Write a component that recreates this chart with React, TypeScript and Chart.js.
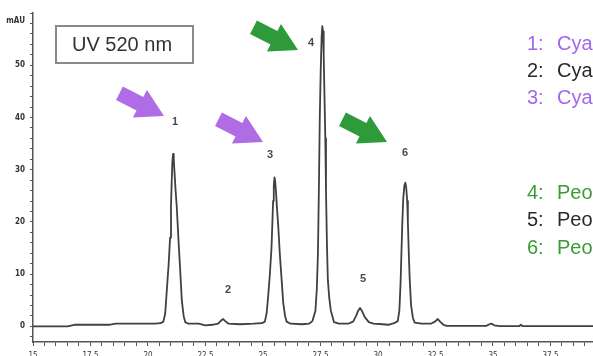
import React, { useEffect, useRef } from "react";
import { Chart, registerables } from "chart.js";

Chart.register(...registerables);

// Retention time (min) and detector response (mAU)
const retentionTimes: number[] = [
  15.0, 16.5, 16.8, 18.3, 18.6, 20.3, 20.55, 20.67, 20.75, 20.82, 20.9, 20.96, 21.0, 21.03, 21.06,
  21.09, 21.12, 21.16, 21.2, 21.25, 21.32, 21.4, 21.47, 21.55, 21.62, 21.75, 22.2, 22.5, 22.8,
  23.05, 23.18, 23.27, 23.36, 23.5, 24.0, 24.6, 24.95, 25.08, 25.16, 25.23, 25.3, 25.37, 25.41,
  25.44, 25.47, 25.5, 25.53, 25.57, 25.61, 25.66, 25.73, 25.81, 25.88, 25.96, 26.03, 26.2, 26.7,
  27.0, 27.15, 27.28, 27.34, 27.39, 27.43, 27.47, 27.51, 27.55, 27.58, 27.61, 27.64, 27.67, 27.71,
  27.74, 27.78, 27.82, 27.88, 27.95, 28.09, 28.3, 28.7, 28.92, 29.05, 29.14, 29.22, 29.3, 29.42,
  29.6, 29.8, 30.2, 30.45, 30.7, 30.86, 30.93, 30.98, 31.02, 31.06, 31.1, 31.15, 31.19, 31.23,
  31.27, 31.3, 31.34, 31.38, 31.44, 31.52, 31.6, 31.9, 32.3, 32.48, 32.6, 32.72, 32.85, 33.0,
  34.7, 34.85, 34.95, 35.05, 35.3, 36.15, 36.22, 36.28, 39.4,
];
const absorbance: number[] = [
  0.0, 0.0, 0.3, 0.3, 0.5, 0.5, 0.6, 0.9, 2.5, 7, 12, 17, 23, 27.5, 31.5,
  33, 32, 29, 26, 23, 17, 10.8, 5, 2, 0.8, 0.5, 0.5, 0.2, 0.3,
  0.5, 1.1, 1.4, 1.0, 0.5, 0.4, 0.5, 0.6, 0.9, 2.5, 6, 10, 15, 20,
  24, 27, 28.5, 27.8, 25.5, 22.5, 19.5, 14, 9, 4.5, 2, 0.9, 0.5, 0.4,
  0.5, 1, 3, 7, 14, 26, 40, 49, 55.5, 57.5, 56.5, 52, 45, 36,
  26, 16, 9, 5.5, 3, 0.8, 0.5, 0.5, 0.9, 2, 3, 3.5, 3, 1.8,
  0.8, 0.5, 0.4, 0.3, 0.6, 1, 3, 8, 14, 20, 24.5, 27, 27.5, 26.5,
  24, 20, 14, 9, 4, 1.6, 0.7, 0.5, 0.5, 0.9, 1.4, 0.8, 0.3, 0.1,
  0.1, 0.4, 0.5, 0.2, 0.05, 0.05, 0.3, 0.05, 0.05,
];

const xMajorTicks: number[] = [15, 17.5, 20, 22.5, 25, 27.5, 30, 32.5, 35, 37.5];
const yMajorTicks: number[] = [0, 10, 20, 30, 40, 50];
const yUnitLabel = "mAU";
const detectorLabel = "UV 520 nm";
const peakNumbers: string[] = ["1", "2", "3", "4", "5", "6"];
const compoundNames: string[] = [
  "Cyanidin-3-galactoside",
  "Cyanidin-3-glucoside",
  "Cyanidin-3-arabinoside",
  "Peonidin-3-galactoside",
  "Peonidin-3-glucoside",
  "Peonidin-3-arabinoside",
];

const PURPLE = "#B06CE4";
const GREEN = "#2E9A3A";
const LEGEND_PURPLE = "#A466EE";
const LEGEND_GREEN = "#3C9A32";
const LEGEND_BLACK = "#2a2a2a";
const AXIS = "#555555";
const TICK_FONT = '"Liberation Sans Narrow", "DejaVu Sans Condensed", "Liberation Sans", sans-serif';

// decoration layout (pixels)
const peakLabelPos: [number, number][] = [
  [175, 122], [228, 290], [270, 155], [311, 43], [363, 279], [405, 153],
];
const arrows: { tip: [number, number]; color: string }[] = [
  { tip: [164, 116], color: PURPLE },
  { tip: [263, 142], color: PURPLE },
  { tip: [298, 50], color: GREEN },
  { tip: [387, 142], color: GREEN },
];
const legendRows: { y: number; color: string }[] = [
  { y: 44, color: LEGEND_PURPLE },
  { y: 71, color: LEGEND_BLACK },
  { y: 98, color: LEGEND_PURPLE },
  { y: 193, color: LEGEND_GREEN },
  { y: 220, color: LEGEND_BLACK },
  { y: 248, color: LEGEND_GREEN },
];

function drawArrow(ctx: CanvasRenderingContext2D, tx: number, ty: number, color: string) {
  const ang = (27 * Math.PI) / 180;
  const L = 50, headLen = 27, headW = 31, shaftW = 15;
  const dx = Math.cos(ang), dy = Math.sin(ang);
  const nx = -dy, ny = dx;
  const tailX = tx - L * dx, tailY = ty - L * dy;
  const hbX = tx - headLen * dx, hbY = ty - headLen * dy;
  ctx.beginPath();
  ctx.moveTo(tailX + (nx * shaftW) / 2, tailY + (ny * shaftW) / 2);
  ctx.lineTo(hbX + (nx * shaftW) / 2, hbY + (ny * shaftW) / 2);
  ctx.lineTo(hbX + (nx * headW) / 2, hbY + (ny * headW) / 2);
  ctx.lineTo(tx, ty);
  ctx.lineTo(hbX - (nx * headW) / 2, hbY - (ny * headW) / 2);
  ctx.lineTo(hbX - (nx * shaftW) / 2, hbY - (ny * shaftW) / 2);
  ctx.lineTo(tailX - (nx * shaftW) / 2, tailY - (ny * shaftW) / 2);
  ctx.closePath();
  ctx.fillStyle = color;
  ctx.fill();
}

const annotationPlugin = {
  id: "chromAnnotations",
  afterDraw(chart: any) {
    const ctx: CanvasRenderingContext2D = chart.ctx;
    ctx.save();
    // unit label
    ctx.fillStyle = "#333";
    ctx.font = `bold 8px ${TICK_FONT}`;
    ctx.textAlign = "right";
    ctx.textBaseline = "middle";
    ctx.fillText(yUnitLabel, 25, 21);

    // detector box
    ctx.strokeStyle = "#8a8a8a";
    ctx.lineWidth = 2;
    ctx.strokeRect(56, 26, 137, 37);
    ctx.fillStyle = "#333";
    ctx.font = '20px "Liberation Sans", Arial, sans-serif';
    ctx.textAlign = "left";
    ctx.textBaseline = "middle";
    ctx.fillText(detectorLabel, 72, 45);

    // arrows
    arrows.forEach((a) => drawArrow(ctx, a.tip[0], a.tip[1], a.color));

    // peak numbers
    ctx.fillStyle = "#4a4a4a";
    ctx.font = 'bold 11px "Liberation Sans", Arial, sans-serif';
    ctx.textAlign = "center";
    ctx.textBaseline = "middle";
    peakNumbers.forEach((n, i) => ctx.fillText(n, peakLabelPos[i][0], peakLabelPos[i][1]));

    // legend
    ctx.font = '20px "Liberation Sans", Arial, sans-serif';
    ctx.textAlign = "left";
    legendRows.forEach((r, i) => {
      ctx.fillStyle = r.color;
      ctx.fillText(peakNumbers[i] + ":", 527, r.y);
      ctx.fillText(compoundNames[i], 557, r.y);
    });
    ctx.restore();
  },
};

export default function App() {
  const ref = useRef<HTMLCanvasElement | null>(null);

  useEffect(() => {
    if (!ref.current) return;
    const chart = new Chart(ref.current, {
      type: "line",
      data: {
        datasets: [
          {
            data: retentionTimes.map((t, i) => ({ x: t, y: absorbance[i] })),
            borderColor: "#404040",
            borderWidth: 1.8,
            borderJoinStyle: "round",
            borderCapStyle: "round",
            pointRadius: 0,
            tension: 0,
            fill: false,
          },
        ],
      },
      options: {
        responsive: false,
        devicePixelRatio: 1,
        animation: false,
        layout: { padding: { top: 13, left: 0, right: 0, bottom: 0 } },
        plugins: { legend: { display: false }, tooltip: { enabled: false } },
        scales: {
          x: {
            type: "linear",
            min: 15,
            max: 39.35,
            border: { display: true, color: AXIS, width: 1.5 },
            grid: { display: true, drawOnChartArea: false, drawTicks: true, tickLength: 4, color: AXIS, lineWidth: 1 },
            ticks: {
              stepSize: 0.5,
              autoSkip: false,
              maxRotation: 0,
              minRotation: 0,
              includeBounds: false,
              padding: 5,
              color: "#333",
              font: { size: 8, family: TICK_FONT },
              callback: (v: any) => {
                const n = Number(v);
                return xMajorTicks.some((m) => Math.abs(m - n) < 1e-6) ? String(n) : "";
              },
            },
            afterFit: (scale: any) => {
              scale.height = 14;
            },
          },
          y: {
            type: "linear",
            min: -3,
            max: 60,
            border: { display: true, color: AXIS, width: 1.5 },
            grid: { display: true, drawOnChartArea: false, drawTicks: true, tickLength: 3, color: AXIS, lineWidth: 1 },
            ticks: {
              stepSize: 2,
              autoSkip: false,
              includeBounds: false,
              padding: 5,
              color: "#333",
              font: { size: 8, weight: "bold", family: TICK_FONT },
              callback: (v: any) => {
                const n = Number(v);
                return yMajorTicks.some((m) => Math.abs(m - n) < 1e-6) ? String(n) : "";
              },
            },
            afterFit: (scale: any) => {
              scale.width = 33;
            },
          },
        },
      },
      plugins: [annotationPlugin],
    } as any);
    return () => chart.destroy();
  }, []);

  return (
    <div
      style={{
        position: "fixed",
        left: 0,
        top: 0,
        width: 593,
        height: 356,
        overflow: "hidden",
        background: "#fff",
      }}
    >
      <canvas ref={ref} width={593} height={356} style={{ display: "block", width: 593, height: 356 }} />
    </div>
  );
}
